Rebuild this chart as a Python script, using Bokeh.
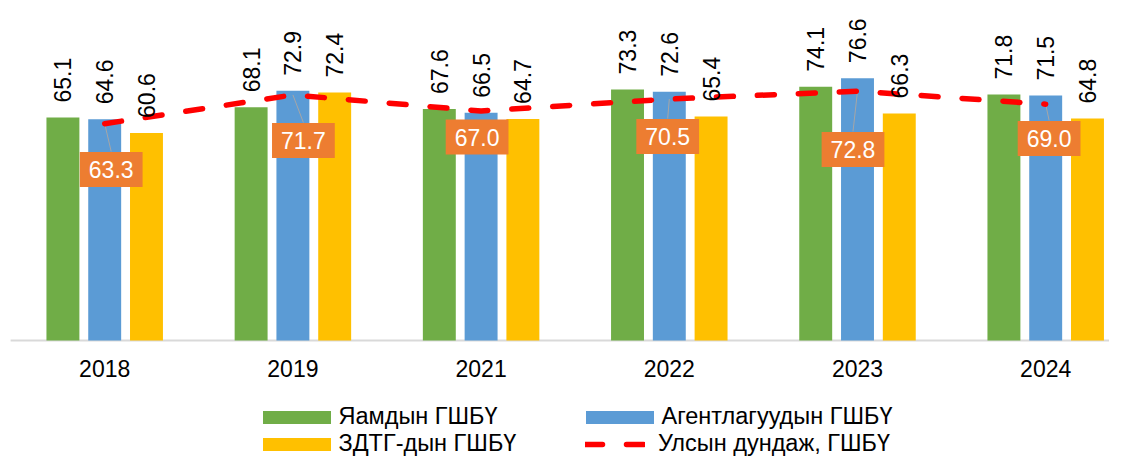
import numpy as np
from bokeh.plotting import figure
from bokeh.models import Range1d, Legend, LegendItem
from bokeh.embed import file_html
from bokeh.resources import INLINE
from bokeh.core.properties import value

# ---------------- data ----------------
years = ["2018", "2019", "2021", "2022", "2023", "2024"]
ministry = [65.1, 68.1, 67.6, 73.3, 74.1, 71.8]      # Яамдын ГШБҮ
agency = [64.6, 72.9, 66.5, 72.6, 76.6, 71.5]        # Агентлагуудын ГШБҮ
local_gov = [60.6, 72.4, 64.7, 65.4, 66.3, 64.8]     # ЗДТГ-дын ГШБҮ
national = [63.3, 71.7, 67.0, 70.5, 72.8, 69.0]      # Улсын дундаж, ГШБҮ
names = ["Яамдын ГШБҮ", "Агентлагуудын ГШБҮ", "ЗДТГ-дын ГШБҮ", "Улсын дундаж, ГШБҮ"]

# ---------------- styles / layout ----------------
FONT = "Liberation Sans"
GREEN, BLUE, GOLD, ORANGE, RED = "#70AD47", "#5B9BD5", "#FFC000", "#ED7D31", "#FF0000"
W, H = 1109, 457
PITCH = 188.2          # px per category
FIRST_C = 104.2        # px of first category centre
BASE_Y = 340           # px from top of the zero line
PXY = 3.425            # px per y unit
BAR_W = 0.175
OFFS = [-0.222, 0.0, 0.222]
# manual label box offsets (px) for the national-average labels
lab_dx = [6.5, 10.5, -4.0, -1.6, -4.5, 3.4]
lab_dy = [45.8, 45.6, 26.0, 37.5, 58.3, 34.3]
BOX_HALF = 18

idx = np.arange(len(years))
x0 = -FIRST_C / PITCH

p = figure(width=W, height=H, output_backend="svg", toolbar_location=None,
           x_range=Range1d(x0, x0 + W / PITCH),
           y_range=Range1d(-(H - BASE_Y) / PXY, BASE_Y / PXY),
           x_axis_location=None, y_axis_location=None,
           min_border_left=0, min_border_right=0,
           min_border_top=0, min_border_bottom=0)
p.outline_line_color = None
p.xgrid.visible = False
p.ygrid.visible = False
p.background_fill_color = "white"

# category axis line
p.segment(x0=[-0.5], y0=[0], x1=[len(years) - 0.5 + 0.2], y1=[0],
          line_color="#D9D9D9", line_width=2)

series = [(ministry, GREEN), (agency, BLUE), (local_gov, GOLD)]
bar_renderers = []
for (vals, col), off in zip(series, OFFS):
    r = p.vbar(x=idx + off, top=vals, width=BAR_W, bottom=0,
               fill_color=col, line_color=None)
    bar_renderers.append(r)

# category labels
p.text(x=idx, y=[0] * len(years), text=years, y_offset=28,
       text_align="center", text_baseline="middle", text_font=value(FONT),
       text_font_size="23px", text_color="#000000")

# leader lines
lx0, ly0, lx1, ly1 = [], [], [], []
for i, v in enumerate(national):
    if lab_dy[i] - BOX_HALF > 10:
        lx0.append(idx[i]); ly0.append(v)
        lx1.append(idx[i] + lab_dx[i] / PITCH)
        ly1.append(v - (lab_dy[i] - BOX_HALF) / PXY)
p.segment(x0=lx0, y0=ly0, x1=lx1, y1=ly1, line_color="#A6A6A6", line_width=1)

line_r = p.line(idx, national, line_color=RED, line_width=5.5,
                line_dash="17 24", line_cap="round")

# value labels on bars
for (vals, col), off in zip(series, OFFS):
    p.text(x=idx + off, y=vals, text=[f"{v:.1f}" for v in vals],
           angle=np.pi / 2, text_align="left", text_baseline="middle",
           y_offset=-15, text_font=value(FONT), text_font_size="23px",
           text_color="#000000")

# national average labels
p.text(x=idx, y=national, text=[f"{v:.1f}" for v in national],
       x_offset=lab_dx, y_offset=lab_dy, text_align="center",
       text_baseline="middle", text_font=value(FONT), text_font_size="23px",
       text_color="white", background_fill_color=ORANGE,
       padding=dict(left=9, right=9, top=9, bottom=9))

# legends (one per item for exact placement)
def add_legend(label, renderer, loc, gw, gh, standoff):
    lg = Legend(items=[LegendItem(label=label, renderers=[renderer])],
                location=loc, glyph_width=gw, glyph_height=gh,
                label_standoff=standoff, label_text_font=FONT,
                label_text_font_size="23.5px", label_text_color="#000000",
                label_height=13, padding=0, margin=0, spacing=0,
                border_line_color=None, background_fill_alpha=0)
    p.add_layout(lg, "center")

ROW1_Y, ROW2_Y = 27, 0
add_legend(names[0], bar_renderers[0], (253.5, ROW1_Y), 85, 16, 0)
add_legend(names[1], bar_renderers[1], (576.5, ROW1_Y), 85, 16, 0)
add_legend(names[2], bar_renderers[2], (253.5, ROW2_Y), 85, 16, 0)
add_legend(names[3], line_r, (585, ROW2_Y), 60, 16, 13)

open("out.html", "w").write(file_html(p, INLINE))
